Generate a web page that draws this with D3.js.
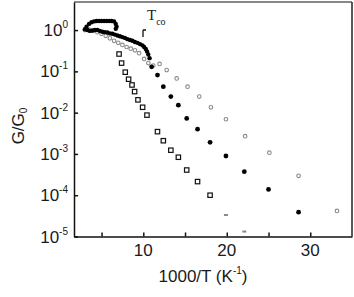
<!DOCTYPE html>
<html>
<head>
<meta charset="utf-8">
<script src="https://cdn.jsdelivr.net/npm/d3@7"></script>
<style>
  body { margin: 0; background: #fff; }
  text { font-family: "Liberation Sans", Arial, sans-serif; fill: #1a1a1a; }
</style>
</head>
<body>
<div id="chart"></div>
<script>
// x = 1000/T, values are log10(G/G0)
const denseX = [3.0, 3.3, 3.6, 3.9, 4.2, 4.5, 4.8, 5.1, 5.4, 5.7, 6.0, 6.3, 6.6, 6.9, 7.2, 7.5, 7.8, 8.1, 8.4, 8.7, 9.0, 9.3, 9.6, 9.9, 10.1, 10.3, 10.45, 10.6, 10.75];
const denseY = [0.02, 0.0, -0.02, -0.01, 0.0, 0.0, -0.02, -0.04, -0.05, -0.06, -0.08, -0.09, -0.11, -0.13, -0.15, -0.17, -0.19, -0.22, -0.24, -0.26, -0.29, -0.31, -0.34, -0.37, -0.41, -0.46, -0.52, -0.59, -0.68];
const loopX = [3.2, 3.5, 3.8, 4.1, 4.4, 4.7, 5.0, 5.3, 5.6, 5.9, 6.2, 6.5, 6.7, 6.8, 6.7];
const loopY = [0.08, 0.15, 0.19, 0.21, 0.22, 0.22, 0.22, 0.22, 0.22, 0.22, 0.22, 0.21, 0.15, 0.08, 0.03];
const greyX = [3.0, 3.5, 4.0, 4.5, 5.0, 5.5, 6.0, 6.5, 7.0, 7.5, 8.0, 8.5, 9.0, 9.5, 10.1, 10.6, 11.2, 11.95, 12.8, 14.0, 15.3, 16.7, 18.1, 19.9, 22.2, 25.1, 28.6, 33.2];
const greyY = [0.0, 0.01, -0.02, -0.05, -0.09, -0.14, -0.2, -0.26, -0.31, -0.36, -0.41, -0.45, -0.49, -0.56, -0.7, -0.8, -0.86, -0.82, -0.97, -1.17, -1.37, -1.61, -1.87, -2.16, -2.57, -2.97, -3.53, -4.38];
const squareX = [7.1, 7.4, 7.84, 8.24, 8.65, 8.96, 9.36, 9.92, 10.44, 11.7, 12.4, 13.3, 14.2, 15.2, 16.5, 18.0];
const squareY = [-0.58, -0.8, -1.02, -1.19, -1.33, -1.49, -1.69, -1.87, -2.06, -2.46, -2.68, -2.91, -3.08, -3.39, -3.67, -4.0];
const tailX = [19.9, 22.1];
const tailY = [-4.48, -4.88];
const filledX = [11.0, 11.7, 12.4, 13.3, 14.2, 15.2, 16.5, 18.0, 19.9, 22.1, 25.0, 28.6];
const filledY = [-0.89, -1.09, -1.37, -1.61, -1.82, -2.14, -2.4, -2.72, -3.05, -3.43, -3.86, -4.41];

const xTicks = [5, 10, 15, 20, 25, 30];
const xLabels = [10, 20, 30];
const yTicks = [0, -1, -2, -3, -4, -5];

const width = 354, height = 297;
const svg = d3.select("#chart").append("svg")
    .attr("width", width)
    .attr("height", height);

const x = d3.scaleLinear().domain([1.7, 35]).range([74, 352]);
const y = d3.scaleLog().domain([1e-5, Math.pow(10, 0.68)]).range([236.5, 2]);

const pts = (xs, ys) => xs.map((v, i) => [v, Math.pow(10, ys[i])]);

// frame
svg.append("line").attr("x1", 74).attr("x2", 352).attr("y1", 2).attr("y2", 2)
    .attr("stroke", "#888").attr("stroke-width", 2);
svg.append("line").attr("x1", 352).attr("x2", 352).attr("y1", 2).attr("y2", 236.5)
    .attr("stroke", "#222").attr("stroke-width", 1.5);

// axes
svg.append("g")
    .attr("transform", "translate(74,0)")
    .call(d3.axisLeft(y).tickValues(yTicks.map(d => Math.pow(10, d))).tickSize(-4).tickSizeOuter(0).tickFormat(""))
    .call(g => g.selectAll("path, line").attr("stroke", "#111").attr("stroke-width", 1.5));

svg.append("g")
    .attr("transform", "translate(0,236.5)")
    .call(d3.axisBottom(x).tickValues(xTicks).tickSize(-4).tickSizeOuter(0).tickFormat(""))
    .call(g => g.selectAll("path, line").attr("stroke", "#111").attr("stroke-width", 1.5));

// y tick labels
const yl = svg.selectAll(".ylab").data(yTicks).enter().append("text")
    .attr("class", "ylab")
    .attr("text-anchor", "end")
    .attr("x", 68)
    .attr("y", d => y(Math.pow(10, d)) + 6)
    .style("font-size", "17px");
yl.append("tspan").text("10");
yl.append("tspan").attr("dy", -8).style("font-size", "10px").text(d => d === 0 ? "0" : "-" + (-d));

// x tick labels
svg.selectAll(".xlab").data(xLabels).enter().append("text")
    .attr("class", "xlab")
    .attr("text-anchor", "middle")
    .attr("x", d => x(d))
    .attr("y", 256)
    .style("font-size", "17px")
    .text(d => d);

// axis titles
const xt = svg.append("text").attr("x", 203).attr("y", 282).attr("text-anchor", "middle")
    .style("font-size", "17px");
xt.append("tspan").text("1000/T (K");
xt.append("tspan").attr("dy", -8).style("font-size", "10px").text("-1");
xt.append("tspan").attr("dy", 8).text(")");

const yt = svg.append("text").attr("transform", "translate(24,126) rotate(-90)")
    .attr("text-anchor", "middle").style("font-size", "17px");
yt.append("tspan").text("G/G");
yt.append("tspan").attr("dy", 3).style("font-size", "10px").text("0");

// T_co annotation
const tc = svg.append("text").attr("x", 147).attr("y", 20)
    .style("font-family", "'Liberation Serif', serif").style("font-size", "15px");
tc.append("tspan").text("T");
tc.append("tspan").attr("dy", 5).style("font-size", "10px").text("co");
svg.append("path").attr("d", "M143,30 L143,37 M143,30 L146,30")
    .attr("stroke", "#111").attr("stroke-width", 1.3).attr("fill", "none");

// series: grey open markers
svg.selectAll(".grey").data(pts(greyX, greyY)).enter().append("circle")
    .attr("cx", d => x(d[0])).attr("cy", d => y(d[1])).attr("r", 1.8)
    .attr("fill", "none").attr("stroke", "#8a8a8a").attr("stroke-width", 1.1);

// dense black curve
svg.selectAll(".dense").data(pts(denseX, denseY).concat(pts(loopX, loopY))).enter().append("circle")
    .attr("cx", d => x(d[0])).attr("cy", d => y(d[1])).attr("r", 2.2)
    .attr("fill", "#000");

// open squares
svg.selectAll(".sq").data(pts(squareX, squareY)).enter().append("rect")
    .attr("x", d => x(d[0]) - 2.2).attr("y", d => y(d[1]) - 2.2)
    .attr("width", 4.4).attr("height", 4.4)
    .attr("fill", "#fff").attr("stroke", "#111").attr("stroke-width", 1.2);

// faint tail of the square series
svg.selectAll(".tail").data(pts(tailX, tailY)).enter().append("rect")
    .attr("x", d => x(d[0]) - 2).attr("y", d => y(d[1]) - 1)
    .attr("width", 4).attr("height", 2)
    .attr("fill", "#888");

// filled circles
svg.selectAll(".fc").data(pts(filledX, filledY)).enter().append("circle")
    .attr("cx", d => x(d[0])).attr("cy", d => y(d[1])).attr("r", 2.4)
    .attr("fill", "#000");
</script>
</body>
</html>
